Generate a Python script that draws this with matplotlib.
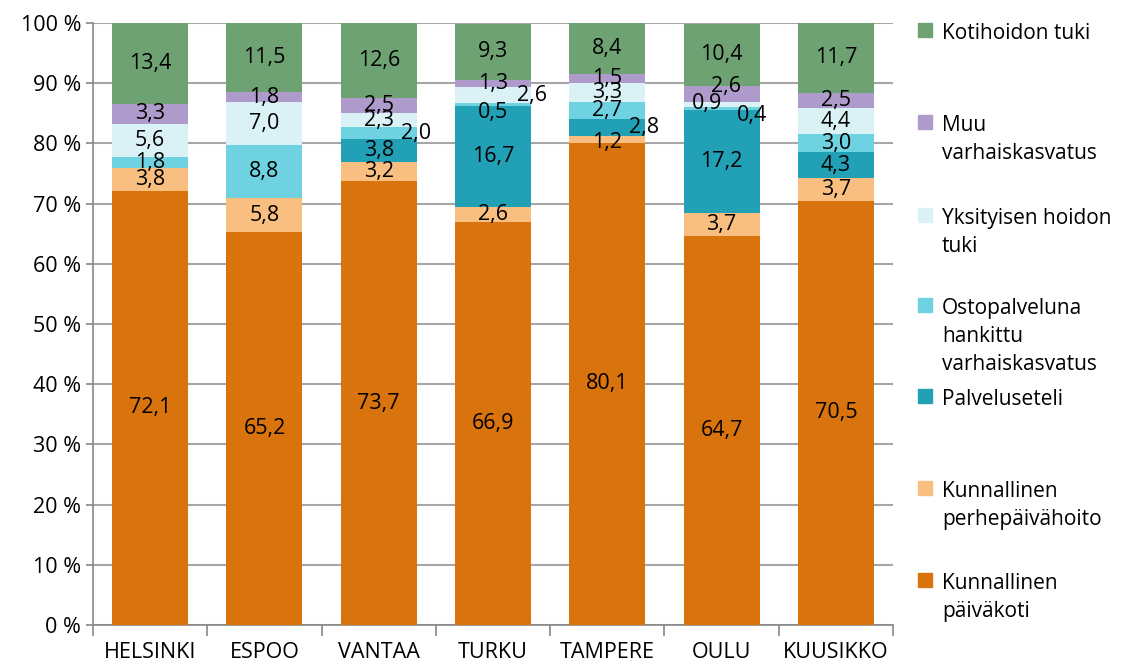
import matplotlib.pyplot as plt
from matplotlib.patches import Rectangle

plt.rcParams['font.family'] = ['Open Sans', 'DejaVu Sans']

cities = ["HELSINKI", "ESPOO", "VANTAA", "TURKU", "TAMPERE", "OULU", "KUUSIKKO"]

# bottom -> top
paivakoti = [72.1, 65.2, 73.7, 66.9, 80.1, 64.7, 70.5]
perhepaivahoito = [3.8, 5.8, 3.2, 2.6, 1.2, 3.7, 3.7]
palveluseteli = [0.0, 0.0, 3.8, 16.7, 2.8, 17.2, 4.3]
ostopalvelu = [1.8, 8.8, 2.0, 0.5, 2.7, 0.4, 3.0]
yksityinen = [5.6, 7.0, 2.3, 2.6, 3.3, 0.9, 4.4]
muu = [3.3, 1.8, 2.5, 1.3, 1.5, 2.6, 2.5]
kotihoito = [13.4, 11.5, 12.6, 9.3, 8.4, 10.4, 11.7]

series = [paivakoti, perhepaivahoito, palveluseteli, ostopalvelu, yksityinen, muu, kotihoito]
colors = ["#D9730D", "#F9BF80", "#22A0B5", "#6ED2E0", "#DAF1F6", "#AE9BCB", "#6FA273"]
legend_labels = [
    "Kunnallinen\npäiväkoti",
    "Kunnallinen\nperhepäivähoito",
    "Palveluseteli",
    "Ostopalveluna\nhankittu\nvarhaiskasvatus",
    "Yksityisen hoidon\ntuki",
    "Muu\nvarhaiskasvatus",
    "Kotihoidon tuki",
]

# manual label nudges (series index, city index) -> (dx, dy)
nudges = {
    (3, 2): (0.33, 0.0),
    (4, 3): (0.34, 0.0),
    (3, 3): (0.0, -1.4),
    (2, 4): (0.32, 0.0),
    (1, 4): (0.0, -0.5),
    (4, 5): (-0.13, 0.2),
    (3, 5): (0.27, -1.1),
    (5, 5): (0.04, 1.2),
}

fig = plt.figure(figsize=(11.25, 6.66), dpi=100)
ax = fig.add_axes([93 / 1125, 1 - 625 / 666, 800 / 1125, 602 / 666])

x = list(range(len(cities)))
bottom = [0.0] * len(cities)
for si, vals in enumerate(series):
    ax.bar(x, vals, bottom=bottom, width=0.665, color=colors[si], zorder=3)
    for ci, v in enumerate(vals):
        if v > 0:
            dx, dy = nudges.get((si, ci), (0, 0))
            ax.text(ci + dx, bottom[ci] + v / 2 + dy, f"{v:.1f}".replace(".", ","),
                    ha="center", va="center", fontsize=15.5, color="black", zorder=4)
    bottom = [b + v for b, v in zip(bottom, vals)]

ax.set_xlim(-0.5, len(cities) - 0.5)
ax.set_ylim(0, 100)
ax.set_yticks(range(0, 101, 10))
ax.set_yticklabels([f"{t} %" for t in range(0, 101, 10)], fontsize=15.5)
ax.yaxis.grid(True, color="#A6A6A6", linewidth=1.5, zorder=0)

ax.set_xticks([i - 0.5 for i in range(len(cities) + 1)])
ax.set_xticklabels([])
ax.set_xticks(x, minor=True)
ax.set_xticklabels(cities, minor=True, fontsize=15.5)
ax.tick_params(axis="x", which="major", length=8, color="#888888", width=1.2)
ax.tick_params(axis="x", which="minor", length=0, pad=12)
ax.tick_params(axis="y", length=5, color="#888888", width=1.2)

for s in ["top", "right"]:
    ax.spines[s].set_visible(False)
for s in ["left", "bottom"]:
    ax.spines[s].set_color("#888888")
    ax.spines[s].set_linewidth(1.2)

# legend on the right, top to bottom (y = centre of first line, px)
legend_y = [30, 122, 215, 305, 396, 488, 580]
order = list(range(len(series)))[::-1]
for yy, si in zip(legend_y, order):
    fig.patches.append(Rectangle((918 / 1125, 1 - (yy + 7) / 666), 14 / 1125, 14 / 666,
                                 transform=fig.transFigure, color=colors[si]))
    fig.text(942 / 1125, 1 - (yy - 7) / 666, legend_labels[si], ha="left", va="top",
             fontsize=15, linespacing=1.45)

fig.savefig("out.png", dpi=100)
